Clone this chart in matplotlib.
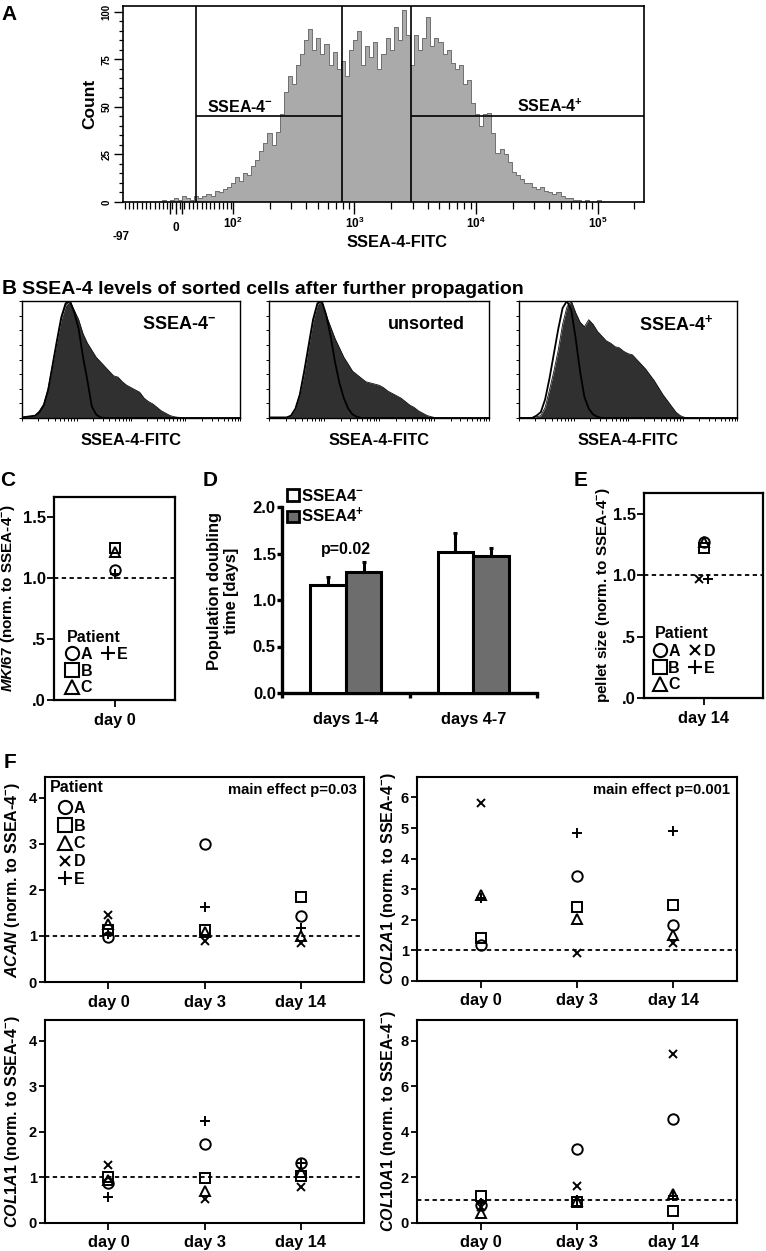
import numpy as np
import matplotlib
matplotlib.use('Agg')
import matplotlib.pyplot as plt
from matplotlib.lines import Line2D
from matplotlib.patches import Patch
from matplotlib import transforms

plt.rcParams['font.family'] = ['Liberation Sans', 'DejaVu Sans']
plt.rcParams['font.weight'] = 'bold'
plt.rcParams['axes.labelweight'] = 'bold'
plt.rcParams['mathtext.fontset'] = 'custom'
plt.rcParams['mathtext.rm'] = 'Liberation Sans:bold'
plt.rcParams['mathtext.it'] = 'Liberation Sans:italic:bold'
plt.rcParams['mathtext.bf'] = 'Liberation Sans:bold'
plt.rcParams['mathtext.default'] = 'rm'

# ---- panel A: SSEA-4 histogram (counts per 8-channel bin, from channel 64)
hist_a = [0, 0, 1, 0, 1, 2, 1, 3, 2, 1, 3, 2, 3, 4, 3, 6, 5, 7, 8, 10,
          13, 11, 15, 14, 19, 22, 27, 31, 36, 30, 37, 46, 58, 66, 62, 72, 78, 85, 91, 80,
          86, 78, 83, 72, 79, 70, 74, 66, 80, 85, 90, 72, 82, 76, 84, 70, 78, 86, 80, 92,
          85, 101, 88, 72, 88, 80, 86, 97, 82, 86, 84, 78, 80, 73, 70, 72, 62, 64, 52, 46,
          40, 46, 47, 36, 26, 28, 25, 21, 16, 14, 12, 10, 10, 8, 7, 8, 6, 5, 4, 5,
          3, 2, 2, 1, 1, 0, 1, 0, 0, 1, 0, 0]
gate_neg = [35, 790]
gate_pos = [2900, 242000]
gate_count = 45

# ---- panel B: normalised histograms on a 0-100 % axis grid (step 2)
b_pct = list(range(0, 101, 2))
b_names = ['SSEA-4$^{-}$', 'unsorted', 'SSEA-4$^{+}$']
b_neg_fill = [0.5, 1, 1.5, 2, 6, 12, 25, 45, 65, 84, 96, 100, 92, 84, 72, 64, 58, 52, 48, 44,
              40, 36, 35, 31, 28, 26, 24, 22, 17, 14, 12, 9, 6, 4, 2, 1, 0.5, 0, 0, 0,
              0, 0, 0, 0, 0, 0, 0, 0, 0, 0, 0]
b_neg_ctrl = [0.5, 1, 1.5, 2, 5, 11, 24, 45, 66, 86, 98, 100, 90, 76, 52, 32, 10, 3, 0.5, 0,
              0, 0, 0, 0, 0, 0, 0, 0, 0, 0, 0, 0, 0, 0, 0, 0, 0, 0, 0, 0,
              0, 0, 0, 0, 0, 0, 0, 0, 0, 0, 0]
b_uns_fill = [0.5, 0.5, 0.5, 0.5, 0.5, 2, 8, 20, 38, 60, 82, 97, 100, 88, 78, 68, 60, 52, 46, 40,
              37, 34, 31, 30, 29, 28, 26, 23, 21, 19, 17, 14, 11, 9, 6, 4, 2, 1, 0, 0,
              0, 0, 0, 0, 0, 0, 0, 0, 0, 0, 0]
b_uns_ctrl = [0.5, 0.5, 0.5, 0.5, 0.5, 2, 8, 20, 40, 62, 84, 98, 100, 88, 70, 48, 30, 17, 8, 3,
              1, 0, 0, 0, 0, 0, 0, 0, 0, 0, 0, 0, 0, 0, 0, 0, 0, 0, 0, 0,
              0, 0, 0, 0, 0, 0, 0, 0, 0, 0, 0]
b_pos_fill = [0.5, 0.5, 0.5, 0.5, 1, 2, 9, 24, 40, 58, 80, 95, 100, 90, 82, 78, 84, 80, 74, 70,
              66, 64, 61, 60, 57, 55, 54, 50, 46, 42, 37, 32, 26, 20, 15, 10, 5, 2, 0.5, 0,
              0, 0, 0, 0, 0, 0, 0, 0, 0, 0, 0]
b_pos_ctrl = [0, 0, 0, 0, 2, 5, 16, 34, 55, 76, 94, 100, 92, 68, 40, 18, 8, 3, 1, 0,
              0, 0, 0, 0, 0, 0, 0, 0, 0, 0, 0, 0, 0, 0, 0, 0, 0, 0, 0, 0,
              0, 0, 0, 0, 0, 0, 0, 0, 0, 0, 0]

# ---- patients / markers
patients = ['A', 'B', 'C', 'D', 'E']
markers = {'A': 'o', 'B': 's', 'C': '^', 'D': 'x', 'E': '+'}
msize = {'A': 7.5, 'B': 7.5, 'C': 7.5, 'D': 5.5, 'E': 7.5}

# ---- panel C: MKI67 day 0
c_mki67 = {'A': 1.07, 'B': 1.25, 'C': 1.21, 'E': 1.03}

# ---- panel D: population doubling time
d_groups = ['days 1-4', 'days 4-7']
d_neg_mean = [1.16, 1.52]
d_neg_sd = [0.09, 0.20]
d_pos_mean = [1.30, 1.47]
d_pos_sd = [0.11, 0.09]

# ---- panel E: pellet size day 14
e_pellet = {'A': 1.27, 'B': 1.22, 'C': 1.27, 'D': 0.97, 'E': 0.97}
e_jitter = {'A': 0, 'B': 0, 'C': 0, 'D': -0.08, 'E': 0.07}

# ---- panel F: gene expression
f_days = ['day 0', 'day 3', 'day 14']
acan = {'A': [0.98, 3.00, 1.43], 'B': [1.12, 1.12, 1.85], 'C': [1.25, 1.08, 1.00],
        'D': [1.45, 0.88, 0.85], 'E': [1.05, 1.63, 1.17]}
col2a1 = {'A': [1.17, 3.44, 1.82], 'B': [1.42, 2.43, 2.50], 'C': [2.80, 2.02, 1.50],
          'D': [5.83, 0.93, 1.23], 'E': [2.72, 4.84, 4.90]}
col1a1 = {'A': [0.87, 1.73, 1.32], 'B': [1.00, 0.98, 1.03], 'C': [0.95, 0.70, 1.12],
          'D': [1.27, 0.53, 0.80], 'E': [0.58, 2.23, 1.32]}
col10a1 = {'A': [0.78, 3.24, 4.58], 'B': [1.17, 0.92, 0.51], 'C': [0.44, 0.95, 1.27],
           'D': [0.72, 1.61, 7.41], 'E': [0.90, 1.00, 1.20]}

fig = plt.figure(figsize=(7.66, 12.51), dpi=100)
W, H = 766.0, 1251.0


def box(x0, y0, x1, y1):
    return fig.add_axes([x0 / W, 1 - y1 / H, (x1 - x0) / W, (y1 - y0) / H])


def ftext(x, y, s, **kw):
    fig.text(x / W, 1 - y / H, s, **kw)


def a_ch(v):
    # logicle-like display: linear below 100, log above
    v = np.asarray(v, dtype=float)
    return np.where(v <= 100, 104 + 1.12 * v, 216 + 239 * np.log10(np.maximum(v, 1) / 100))


dash = (0, (2.4, 1.9))


def scatter_pts(ax, x, y, p):
    ax.plot(x, y, marker=markers[p], ms=msize[p], mfc='none', mec='k', mew=1.4,
            ls='none', clip_on=False, zorder=3)


def style_box(ax, lw=1.4):
    for s in ax.spines.values():
        s.set_linewidth(lw)
    ax.tick_params(direction='out', length=5, width=1.3, colors='k')


def marker_handle(k):
    if k is None:
        return Line2D([], [], ls='none')
    return Line2D([], [], marker=markers[k], ms=msize[k] + 2, mfc='none',
                  mec='k', mew=1.5, ls='none')


def patient_legend(ax, keys, ncol, anchor, title_xy, fs=11.5, spacing=0.1):
    ax.text(title_xy[0], title_xy[1], 'Patient', transform=ax.transAxes,
            ha='left', va='center', fontsize=fs)
    labs = [k if k else '' for k in keys]
    ax.legend([marker_handle(k) for k in keys], labs, ncol=ncol, loc='upper left',
              bbox_to_anchor=anchor, frameon=False, fontsize=fs,
              handlelength=0.9, handletextpad=0.1, labelspacing=spacing,
              columnspacing=0.5, borderpad=0, borderaxespad=0)


# ================= A
axA = box(123, 6, 644, 202)
ch = 64 + 8 * np.arange(len(hist_a))
axA.fill_between(ch, hist_a, step='mid', color='#aaaaaa', lw=0)
axA.step(ch, hist_a, where='mid', color='#707070', lw=0.7)
for g in [gate_neg[0], gate_neg[1], gate_pos[0]]:
    axA.axvline(a_ch(g), color='k', lw=1.2)
axA.hlines(gate_count, a_ch(gate_neg[0]), a_ch(gate_neg[1]), color='k', lw=1.2)
axA.hlines(gate_count, a_ch(gate_pos[0]), a_ch(gate_pos[1]), color='k', lw=1.2)
axA.set_xlim(0, 1024)
axA.set_ylim(0, 103)
for s in axA.spines.values():
    s.set_linewidth(1.2)
axA.set_yticks([0, 25, 50, 75, 100])
axA.set_yticks(np.arange(0, 101, 5), minor=True)
axA.set_yticklabels(['0', '25', '50', '75', '100'], rotation=90, va='center', fontsize=7)
axA.tick_params(axis='y', which='major', direction='out', length=6.5, width=1.0, pad=2)
axA.tick_params(axis='y', which='minor', direction='out', length=3.2, width=0.9)
maj = [-10, 0, 10, 1e2, 1e3, 1e4, 1e5]
axA.set_xticks(a_ch(maj))
axA.set_xticklabels(['', '', '', r'$10^{2}$', r'$10^{3}$', r'$10^{4}$', r'$10^{5}$'], fontsize=8.5)
lin_minor = list(np.arange(-90, 100, 7.5))
log_minor = [m * 10 ** d for d in (2, 3, 4) for m in range(2, 10)] + [2e5]
axA.set_xticks(a_ch(lin_minor + log_minor), minor=True)
axA.tick_params(axis='x', which='major', direction='out', length=8.6, width=1.0, pad=1)
axA.tick_params(axis='x', which='minor', direction='out', length=5, width=0.9)
blend = transforms.blended_transform_factory(axA.transData, axA.transAxes)
axA.text(a_ch(-97), -0.148, '-97', transform=blend, ha='center', va='top', fontsize=8.5)
axA.text(a_ch(0), -0.102, '0', transform=blend, ha='center', va='top', fontsize=8.5)
axA.set_xlabel('SSEA-4-FITC', fontsize=11.8)
axA.xaxis.set_label_coords((397 - 123) / 521, (202 - 235) / 196)
axA.set_ylabel('Count', fontsize=12.5)
axA.yaxis.label.set_va('center')
axA.yaxis.set_label_coords((90 - 123) / 521, 0.5)
ftext(240, 107, 'SSEA-4$^{-}$', ha='center', va='center', fontsize=11.5)
ftext(550, 106, 'SSEA-4$^{+}$', ha='center', va='center', fontsize=11.5)
ftext(9, 14, 'A', ha='center', va='center', fontsize=15)

# ================= B
ftext(9, 289, 'B', ha='center', va='center', fontsize=15)
ftext(22, 289, 'SSEA-4 levels of sorted cells after further propagation',
      ha='left', va='center', fontsize=14)
b_fill = [b_neg_fill, b_uns_fill, b_pos_fill]
b_ctrl = [b_neg_ctrl, b_uns_ctrl, b_pos_ctrl]
b_boxes = [(22, 301, 240, 418), (269, 301, 489, 418), (519, 301, 737, 418)]
b_xt = [25 * (d + np.log10(m)) for d in range(4) for m in range(1, 10)] + [100]
for name, fl, ct, bb in zip(b_names, b_fill, b_ctrl, b_boxes):
    ax = box(*bb)
    ax.fill_between(b_pct, fl, color='#303030', lw=0)
    ax.plot(b_pct, fl, color='#111111', lw=0.6)
    ax.plot(b_pct, ct, color='k', lw=1.3)
    ax.set_xlim(0, 100)
    ax.set_ylim(0, 100)
    for s in ax.spines.values():
        s.set_linewidth(1.0)
    ax.set_xticks(b_xt)
    ax.set_xticklabels([])
    ax.set_yticks(np.arange(0, 101, 12.5))
    ax.set_yticklabels([])
    ax.tick_params(direction='out', length=2, width=0.7)
    ax.set_xlabel('SSEA-4-FITC', fontsize=11.8, labelpad=5)
    ax.text(0.89, 0.80, name, transform=ax.transAxes, ha='right', va='center', fontsize=13)

# ================= C
ftext(8, 480, 'C', ha='center', va='center', fontsize=15)
axC = box(54, 497, 175, 700)
for p, v in c_mki67.items():
    scatter_pts(axC, 0, v, p)
axC.axhline(1, color='k', ls=dash, lw=1.3)
axC.set_xlim(-1, 1)
axC.set_ylim(0, 1.665)
style_box(axC, 1.6)
axC.set_xticks([0])
axC.set_xticklabels(['day 0'], fontsize=11.8)
axC.set_yticks([0, 0.5, 1.0, 1.5])
axC.set_yticklabels(['.0', '.5', '1.0', '1.5'], fontsize=12)
axC.tick_params(axis='y', length=5, pad=1)
axC.tick_params(axis='x', length=5, pad=4)
axC.set_ylabel(r'$\mathit{MKI67}$ (norm. to SSEA-4$^{-}$)', fontsize=11)
axC.yaxis.label.set_va('center')
axC.yaxis.set_label_coords((8 - 54) / 121, 0.5)
patient_legend(axC, ['A', 'B', 'C', 'E', None, None], 2,
               (0.09, (700 - 647) / 203), (0.11, (700 - 637) / 203))

# ================= D
ftext(210, 480, 'D', ha='center', va='center', fontsize=15)
axD = box(282, 507, 537, 693)
xg = np.arange(len(d_groups))
axD.bar(xg - 0.14, d_neg_mean, 0.28, color='white', edgecolor='k', lw=2.2, zorder=3)
axD.bar(xg + 0.14, d_pos_mean, 0.28, color='#6d6d6d', edgecolor='k', lw=2.2, zorder=3)
axD.errorbar(xg - 0.14, d_neg_mean, yerr=[np.zeros(len(xg)), d_neg_sd], fmt='none',
             ecolor='k', elinewidth=2.2, capsize=1.5, capthick=2.2, zorder=2)
axD.errorbar(xg + 0.14, d_pos_mean, yerr=[np.zeros(len(xg)), d_pos_sd], fmt='none',
             ecolor='k', elinewidth=2.2, capsize=1.5, capthick=2.2, zorder=2)
axD.set_xlim(-0.5, 1.5)
axD.set_ylim(0, 2.0)
axD.spines['top'].set_visible(False)
axD.spines['right'].set_visible(False)
axD.spines['left'].set_linewidth(2.4)
axD.spines['bottom'].set_linewidth(2.4)
axD.set_yticks([0, 0.5, 1.0, 1.5, 2.0])
axD.set_yticklabels(['0.0', '0.5', '1.0', '1.5', '2.0'], fontsize=12)
axD.set_xticks(xg)
axD.set_xticklabels(d_groups, fontsize=11.8)
axD.set_xticks([-0.5, 0.5, 1.5], minor=True)
axD.tick_params(axis='x', which='major', length=0, pad=14)
axD.tick_params(axis='x', which='minor', direction='out', length=3.5, width=2.4)
axD.tick_params(axis='y', direction='out', length=3.5, width=2.4, pad=1)
axD.set_ylabel('Population doubling\ntime [days]', fontsize=11.8, linespacing=1.1)
axD.yaxis.label.set_va('center')
axD.yaxis.set_label_coords((223 - 282) / 255, 0.55)
axD.text(xg[0], 1.54, 'p=0.02', ha='center', va='center', fontsize=11.5)
axD.legend([Patch(fc='white', ec='k', lw=2), Patch(fc='#6d6d6d', ec='k', lw=2)],
           ['SSEA4$^{-}$', 'SSEA4$^{+}$'], loc='upper left',
           bbox_to_anchor=((287 - 282) / 255, (693 - 488) / 186), frameon=False,
           fontsize=12, handlelength=0.7, handleheight=0.7, handletextpad=0.15,
           labelspacing=0.12, borderpad=0, borderaxespad=0)

# ================= E
ftext(581, 480, 'E', ha='center', va='center', fontsize=15)
axE = box(644, 493, 763, 698)
for p, v in e_pellet.items():
    scatter_pts(axE, e_jitter[p], v, p)
axE.axhline(1, color='k', ls=dash, lw=1.3)
axE.set_xlim(-1, 1)
axE.set_ylim(0, 1.67)
style_box(axE, 1.6)
axE.set_xticks([0])
axE.set_xticklabels(['day 14'], fontsize=11.8)
axE.set_yticks([0, 0.5, 1.0, 1.5])
axE.set_yticklabels(['.0', '.5', '1.0', '1.5'], fontsize=12)
axE.tick_params(axis='y', length=5, pad=1)
axE.tick_params(axis='x', length=5, pad=4)
axE.set_ylabel('pellet size (norm. to SSEA-4$^{-}$)', fontsize=11)
axE.yaxis.label.set_va('center')
axE.yaxis.set_label_coords((603 - 644) / 119, 0.5)
patient_legend(axE, ['A', 'B', 'C', 'D', 'E', None], 2,
               (0.07, (698 - 644) / 205), (0.09, (698 - 633) / 205))

# ================= F
ftext(10, 763, 'F', ha='center', va='center', fontsize=15)
f_panels = [
    (acan, 'ACAN', (45, 777, 364, 982), 4.45, [0, 1, 2, 3, 4], 'main effect p=0.03'),
    (col2a1, 'COL2A1', (417, 777, 737, 981), 6.67, [0, 1, 2, 3, 4, 5, 6], 'main effect p=0.001'),
    (col1a1, 'COL1A1', (45, 1020, 364, 1223), 4.45, [0, 1, 2, 3, 4], None),
    (col10a1, 'COL10A1', (417, 1020, 737, 1223), 8.92, [0, 2, 4, 6, 8], None),
]
xd = np.arange(len(f_days))
for i, (data, gene, bb, ytop, yt, note) in enumerate(f_panels):
    ax = box(*bb)
    for p in patients:
        scatter_pts(ax, xd, data[p], p)
    ax.axhline(1, color='k', ls=dash, lw=1.3)
    ax.set_xlim(-0.66, 2.66)
    ax.set_ylim(0, ytop)
    style_box(ax, 1.5)
    ax.set_xticks(xd)
    ax.set_xticklabels(f_days, fontsize=11.8)
    ax.set_yticks(yt)
    ax.set_yticklabels([str(t) for t in yt], fontsize=10.5)
    ax.tick_params(axis='y', length=4.5, pad=1.5)
    ax.tick_params(axis='x', length=5, pad=4)
    ax.set_ylabel(r'$\mathit{' + gene + '}$ (norm. to SSEA-4$^{-}$)', fontsize=11.5)
    ax.yaxis.label.set_va('center')
    lab_x = 13 if bb[0] < 100 else 388
    ax.yaxis.set_label_coords((lab_x - bb[0]) / (bb[2] - bb[0]), 0.5)
    if note:
        ax.text(0.977, 0.937, note, transform=ax.transAxes, ha='right', va='center',
                fontsize=10.7)
    if i == 0:
        patient_legend(ax, patients, 1, (0.04, (982 - 801) / 205),
                       (0.016, (982 - 787) / 205), spacing=0.17)

fig.savefig('out.png', dpi=100, facecolor='white')
